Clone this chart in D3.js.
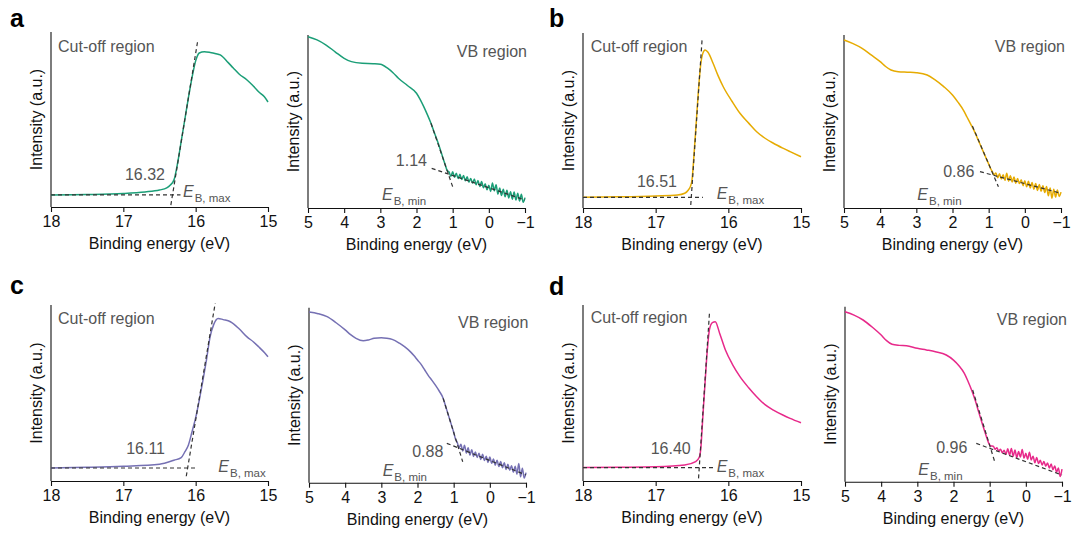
<!DOCTYPE html>
<html><head><meta charset="utf-8">
<script src="https://cdn.jsdelivr.net/npm/d3@7"></script>
<style>
body{margin:0;background:#fff;}
text{font-family:"Liberation Sans",Arial,sans-serif;}
</style></head><body>
<svg id="chart" width="1073" height="533"></svg>
<script>
// ---------- DATA ----------
const panelLetters = ["a", "b", "c", "d"];
const seriesColors = ["#1b9e77", "#e6ab02", "#7570b3", "#e7298a"];
const cutTicks = [18, 17, 16, 15];
const vbTicks = [5, 4, 3, 2, 1, 0, -1];
const cutoffLabels = ["16.32", "16.51", "16.11", "16.40"];
const vbLabels = ["1.14", "0.86", "0.88", "0.96"];

// Secondary-electron cut-off spectra [binding energy (eV), intensity (a.u.)]
const cutA = [[18,6.9],[17.5,7.1],[17.0,7.7],[16.7,8.6],[16.5,9.7],[16.4,10.9],[16.35,12.6],[16.3,15.5],[16.25,25],[16.2,37.5],[16.15,50],[16.1,62.5],[16.05,74],[16.0,83.5],[15.95,88],[15.88,88.7],[15.8,88.3],[15.72,87.6],[15.66,86.9],[15.55,82.5],[15.48,79.4],[15.4,76],[15.29,72.6],[15.2,69],[15.11,65.1],[15.05,63],[15.0,60]];
const cutB = [[18,6.1],[17.5,6.4],[17.0,6.9],[16.7,7.4],[16.6,8.4],[16.55,10.3],[16.52,12.5],[16.5,16],[16.47,32],[16.44,50],[16.41,68],[16.38,82],[16.35,88.5],[16.32,90.3],[16.28,89],[16.21,82.7],[16.14,75.5],[16.07,69.3],[15.95,61],[15.84,54.1],[15.72,48.5],[15.61,43.6],[15.5,40],[15.38,37],[15.25,34.2],[15.15,32.2],[15.0,29.3]];
const cutC = [[18,7.4],[17.5,7.8],[17.0,8.4],[16.5,9.5],[16.3,11.8],[16.2,13.3],[16.15,16.5],[16.1,20.5],[16.05,28],[16.0,36],[15.95,46],[15.9,57],[15.85,69],[15.8,82],[15.75,89],[15.69,92.4],[15.62,91.7],[15.52,90.5],[15.4,86.5],[15.29,81.9],[15.2,79],[15.13,76.3],[15.05,73],[15.0,70.6]];
const cutD = [[18,7.6],[17.5,7.8],[17.0,8.1],[16.6,9.1],[16.45,11],[16.4,13.5],[16.38,18],[16.35,37],[16.32,56],[16.29,74],[16.26,86],[16.22,90],[16.18,90.5],[16.12,84],[16.04,74.4],[15.94,66],[15.84,59.3],[15.72,53],[15.61,47.9],[15.5,43.5],[15.38,40.3],[15.25,37.5],[15.15,35.6],[15.0,33.1]];

// Valence-band spectra [binding energy (eV), intensity (a.u.)]
const vbA = [[5,99.0],[4.75,97.2],[4.5,94.2],[4.25,90.3],[4.0,86.5],[3.8,84.6],[3.5,83.6],[3.2,83.4],[3.0,83.1],[2.8,80.8],[2.65,78.2],[2.5,75.0],[2.25,70.8],[2.0,66.3],[1.9,62.8],[1.8,58.6],[1.7,54],[1.6,49.0],[1.5,43.2],[1.4,37.4],[1.3,31],[1.25,27.7],[1.2,24.5],[1.15,21.6],
 [1.10,20.8],[1.05,18.2],[1.00,20.9],[0.95,17.8],[0.90,20.1],[0.85,17.0],[0.80,19.5],[0.75,16.5],[0.70,18.8],[0.65,15.7],[0.60,18.1],[0.55,14.9],[0.50,17.1],[0.45,14.3],[0.40,16.8],[0.35,13.4],[0.30,15.9],[0.25,12.4],[0.20,15.3],[0.15,11.7],[0.10,14.0],[0.05,10.5],[0.00,13.1],[-0.05,9.6],[-0.10,14.4],[-0.15,9.9],[-0.20,13.5],[-0.25,8.0],[-0.30,11.5],[-0.35,7.2],[-0.40,10.8],[-0.45,6.5],[-0.50,10.2],[-0.55,5.8],[-0.60,9.4],[-0.65,5.1],[-0.70,9.2],[-0.75,4.6],[-0.80,8.5],[-0.85,4.0],[-0.90,7.9],[-0.95,3.3],[-1.00,6.0]];
const vbB = [[5,97.1],[4.75,95.0],[4.5,92.3],[4.25,88.5],[4.0,84.6],[3.85,81.8],[3.7,79.8],[3.5,78.8],[3.25,78.5],[3.0,78.2],[2.7,76.9],[2.5,74.4],[2.25,70.3],[2.0,65.3],[1.85,61.2],[1.7,56.6],[1.6,52.6],[1.5,48.6],[1.4,44.6],[1.3,39.8],[1.2,35.0],[1.1,30.2],[1.0,25.4],[0.95,23.0],
 [0.90,21.0],[0.85,19.2],[0.80,20.2],[0.75,17.5],[0.70,19.8],[0.65,16.8],[0.60,19.2],[0.55,16.0],[0.50,20.1],[0.45,15.5],[0.40,18.7],[0.35,15.1],[0.30,17.9],[0.25,14.3],[0.20,17.0],[0.15,14.1],[0.10,16.4],[0.05,12.9],[0.00,15.7],[-0.05,12.3],[-0.10,15.4],[-0.15,11.6],[-0.20,14.7],[-0.25,10.8],[-0.30,14.1],[-0.35,10.1],[-0.40,13.6],[-0.45,9.7],[-0.50,12.8],[-0.55,8.9],[-0.60,12.5],[-0.65,7.1],[-0.70,11.6],[-0.75,5.7],[-0.80,10.9],[-0.85,6.3],[-0.90,10.4],[-0.95,6.7],[-1.00,9.2]];
const vbC = [[5,97.5],[4.75,96.6],[4.5,94.9],[4.25,91.4],[4.0,87.3],[3.85,84.6],[3.7,82.5],[3.5,81.1],[3.35,81.6],[3.2,82.5],[3.0,82.9],[2.85,82.6],[2.7,81.9],[2.5,79.7],[2.35,77.6],[2.2,74.9],[2.1,72.7],[2.0,70.1],[1.9,67.6],[1.8,64.4],[1.7,61.2],[1.6,58.5],[1.5,55.6],[1.4,52.4],[1.3,48.7],[1.2,42.2],[1.1,35.5],[1.0,28.8],
 [0.95,25.0],[0.90,23.0],[0.85,19.9],[0.80,22.0],[0.75,18.1],[0.70,21.4],[0.65,16.9],[0.60,20.0],[0.55,15.7],[0.50,18.9],[0.45,15.0],[0.40,17.6],[0.35,14.4],[0.30,16.8],[0.25,13.3],[0.20,16.3],[0.15,12.7],[0.10,15.1],[0.05,11.6],[0.00,14.7],[-0.05,11.1],[-0.10,13.5],[-0.15,10.0],[-0.20,12.9],[-0.25,9.3],[-0.30,12.1],[-0.35,8.5],[-0.40,11.4],[-0.45,7.6],[-0.50,10.5],[-0.55,7.1],[-0.60,9.7],[-0.65,6.0],[-0.70,9.4],[-0.75,4.9],[-0.80,11.0],[-0.85,3.4],[-0.90,8.3],[-0.95,2.7],[-1.00,5.8]];
const vbD = [[5,97.1],[4.75,95.2],[4.5,92.4],[4.25,88.4],[4.0,83.8],[3.85,80.6],[3.7,78.5],[3.5,77.9],[3.3,77.7],[3.0,76.2],[2.75,75.3],[2.5,74.3],[2.2,72.4],[2.0,69.5],[1.85,66.3],[1.7,61.9],[1.6,57.4],[1.5,52.4],[1.4,46.5],[1.3,39.6],[1.2,32.8],[1.1,26.4],[1.03,22.2],[0.97,20.4],
 [0.90,20.3],[0.85,18.6],[0.80,19.4],[0.75,17.4],[0.70,18.6],[0.65,16.5],[0.60,18.0],[0.55,15.6],[0.50,18.8],[0.45,15.2],[0.40,19.0],[0.35,14.6],[0.30,18.1],[0.25,13.8],[0.20,17.3],[0.15,14.1],[0.10,18.4],[0.05,13.5],[0.00,16.2],[-0.05,12.8],[-0.10,16.9],[-0.15,12.4],[-0.20,14.6],[-0.25,10.8],[-0.30,13.9],[-0.35,10.4],[-0.40,12.2],[-0.45,9.6],[-0.50,11.6],[-0.55,8.9],[-0.60,10.7],[-0.65,7.8],[-0.70,10.1],[-0.75,6.9],[-0.80,9.0],[-0.85,5.4],[-0.90,7.9],[-0.95,3.0],[-1.00,7.2]];

// Linear-fit (tangent) segments: [steep edge, baseline/background]
const fitCutA = [[[16.343,1.1],[15.97,95.4]], [[18,6.9],[16.21,6.9]]];
const fitCutB = [[[16.517,1.7],[16.36,97]], [[18,6.1],[16.35,6.1]]];
const fitCutC = [[[16.13,2.7],[15.73,101]], [[18,7.4],[15.98,7.4]]];
const fitCutD = [[[16.41,1.5],[16.26,95.3]], [[18,7.6],[16.18,7.6]]];
const fitVbA = [[[1.6,49],[1.0,12.3]], [[1.58,22.9],[-1,4.6]]];
const fitVbB = [[[1.45,47.4],[0.73,12.3]], [[1.24,21],[-1,8.5]]];
const fitVbC = [[[1.29,48.2],[0.75,12]], [[1.19,22.5],[-1,4.4]]];
const fitVbD = [[[1.47,52.4],[0.86,11.4]], [[1.37,21.9],[-1,3.8]]];

// ---------- LAYOUT ----------
const layout = [
 {i:0, kind:"cut", data:cutA, fit:fitCutA, x:51,  y:32,    w:217, h:175, valX:114,   valY:-27,   ebX:132,   ebY:-9.7, tX:7,   tY:20},
 {i:0, kind:"vb",  data:vbA,  fit:fitVbA,  x:308, y:35,    w:217, h:173, valX:119,   valY:-42.3, ebX:74,    ebY:-8,   tX:219, tY:22},
 {i:1, kind:"cut", data:cutB, fit:fitCutB, x:583, y:33,    w:218, h:175, valX:94,    valY:-21.3, ebX:133.7, ebY:-9,   tX:7.7, tY:18.7},
 {i:1, kind:"vb",  data:vbB,  fit:fitVbB,  x:844, y:35,    w:217, h:173, valX:130.3, valY:-31.3, ebX:73.3,  ebY:-8,   tX:221, tY:16.7},
 {i:2, kind:"cut", data:cutC, fit:fitCutC, x:51,  y:305,   w:217, h:176, valX:114,   valY:-26.7, ebX:167.3, ebY:-8.7, tX:7,   tY:19},
 {i:2, kind:"vb",  data:vbC,  fit:fitVbC,  x:309, y:307.7, w:217, h:175, valX:134.3, valY:-26,   ebX:73.7,  ebY:-7,   tX:219.3,tY:20.3},
 {i:3, kind:"cut", data:cutD, fit:fitCutD, x:583, y:305,   w:218, h:176, valX:107.7, valY:-26.7, ebX:133.7, ebY:-9.3, tX:7.7, tY:18.3},
 {i:3, kind:"vb",  data:vbD,  fit:fitVbD,  x:845, y:306.7, w:217, h:175, valX:122.3, valY:-29,   ebX:73.3,  ebY:-6.7, tX:222, tY:18.3}
];
const letterPos = [[10,27],[549,27],[10,294],[549,295]];

const svg = d3.select("#chart");
const grey = "#555";
const fs = 16;

panelLetters.forEach((l, k) => {
  svg.append("text").attr("x", letterPos[k][0]).attr("y", letterPos[k][1])
    .attr("font-size", 25).attr("font-weight", "bold").attr("fill", "#000").text(l);
});

layout.forEach(p => {
  const g = svg.append("g").attr("transform", `translate(${p.x},${p.y})`);
  const isCut = p.kind === "cut";
  const x = d3.scaleLinear().domain(isCut ? [18, 15] : [5, -1]).range([0, p.w]);
  const y = d3.scaleLinear().domain([0, 100]).range([p.h, 0]);

  // x axis
  const ax = g.append("g").attr("transform", `translate(0,${p.h})`)
    .call(d3.axisBottom(x).tickValues(isCut ? cutTicks : vbTicks)
      .tickFormat(d3.format("d")).tickSize(5).tickSizeOuter(0).tickPadding(4));
  ax.selectAll("text").attr("font-size", fs).attr("font-family", "Liberation Sans, Arial, sans-serif").attr("fill", "#111");
  ax.selectAll("path,line").attr("stroke", "#111").attr("stroke-width", 1.1);

  // y axis line (no ticks)
  g.append("line").attr("x1", 0).attr("x2", 0).attr("y1", 0).attr("y2", p.h)
    .attr("stroke", "#111").attr("stroke-width", 1.1);

  // axis titles
  g.append("text").attr("x", p.w / 2).attr("y", p.h + 42).attr("text-anchor", "middle")
    .attr("font-size", fs).attr("fill", "#111").text("Binding energy (eV)");
  g.append("text").attr("transform", `translate(-9.5,${p.h / 2}) rotate(-90)`)
    .attr("text-anchor", "middle").attr("font-size", fs).attr("fill", "#111").text("Intensity (a.u.)");

  // spectrum
  const line = d3.line().x(d => x(d[0])).y(d => y(d[1])).curve(d3.curveMonotoneX);
  g.append("path").datum(p.data).attr("d", line).attr("fill", "none")
    .attr("stroke", seriesColors[p.i]).attr("stroke-width", 1.5).attr("stroke-linejoin", "round");

  // fit lines
  const fitLine = d3.line().x(d => x(d[0])).y(d => y(d[1]));
  p.fit.forEach(seg => {
    g.append("path").datum(seg).attr("d", fitLine).attr("fill", "none")
      .attr("stroke", "#333").attr("stroke-width", 1.2).attr("stroke-dasharray", "4,3");
  });

  // region title
  g.append("text").attr("x", p.tX).attr("y", p.tY).attr("font-size", fs).attr("fill", grey)
    .attr("text-anchor", isCut ? "start" : "end").text(isCut ? "Cut-off region" : "VB region");

  // value label
  g.append("text").attr("x", p.valX).attr("y", p.h + p.valY).attr("text-anchor", "end")
    .attr("font-size", fs).attr("fill", grey).text(isCut ? cutoffLabels[p.i] : vbLabels[p.i]);

  // E_B label
  const eb = g.append("text").attr("x", p.ebX).attr("y", p.h + p.ebY).attr("font-size", fs).attr("fill", grey);
  eb.append("tspan").attr("font-style", "italic").text("E");
  eb.append("tspan").attr("font-size", 11.5).attr("dy", 5).attr("dx", 1).text(isCut ? "B, max" : "B, min");
});
</script>
</body></html>
